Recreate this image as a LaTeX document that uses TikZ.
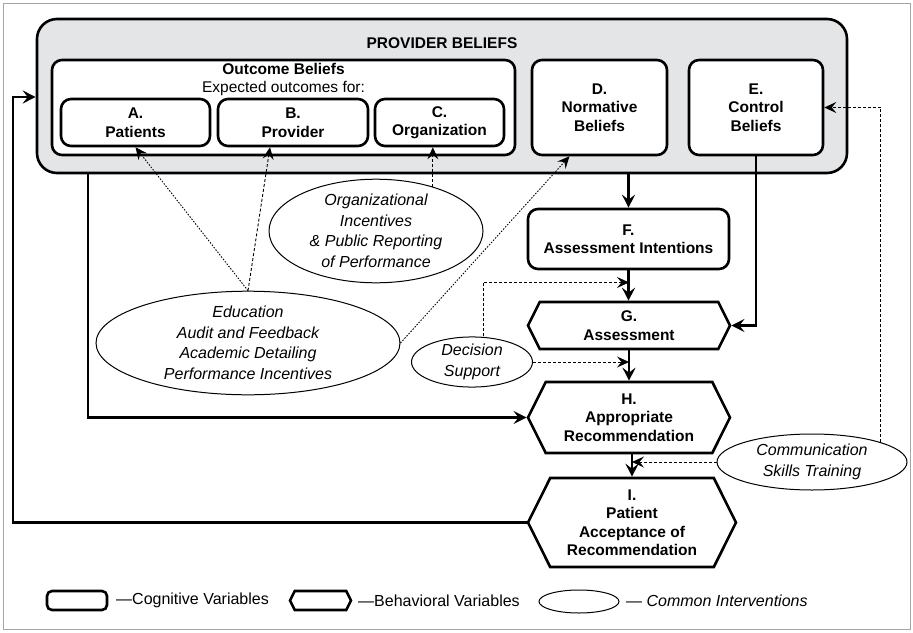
\documentclass[tikz,border=0pt]{standalone}
\usepackage{fontspec}
\setmainfont{Liberation Sans}
\usetikzlibrary{arrows.meta, positioning, shapes.geometric, shapes.symbols, calc}

\definecolor{provgray}{HTML}{E4E5E7}
\newcommand{\labfont}{\fontsize{15.5}{18.5}\selectfont}
\newcommand{\intfont}{\fontsize{16}{20.5}\selectfont\itshape}

\tikzset{
  cogbox/.style={draw, line width=2.6pt, rounded corners=10pt, fill=white, align=center, font=\labfont\bfseries, inner sep=1pt},
  behbox/.style={draw, line width=2.6pt, signal, signal to=west and east, signal pointer angle=127, fill=white, align=center, font=\labfont\bfseries, inner sep=1pt},
  interv/.style={draw, ellipse, line width=1pt, fill=white, align=center, font=\intfont, inner sep=0pt},
  flow/.style={line width=2.5pt, -{Stealth[length=13pt, width=13pt, inset=5pt]}},
  infl/.style={line width=0.9pt, dash pattern=on 3pt off 2pt, -{Stealth[length=12pt, width=11pt, inset=4.5pt]}},
  legtext/.style={anchor=west, font=\fontsize{16}{19}\selectfont, inner sep=0pt},
}

\begin{document}
\begin{tikzpicture}[x=1pt, y=-1pt]
  \useasboundingbox (0,0) rectangle (913,632);
  \draw[gray!70, line width=1pt] (3,3) rectangle (910,629);

  % Provider beliefs
  \node[draw, line width=2.6pt, rounded corners=20pt, fill=provgray, minimum width=810pt, minimum height=154pt] (prov) at (442,96) {};
  \node[font=\labfont\bfseries] (provtitle) at (442,43) {PROVIDER BELIEFS};
  \node[cogbox, minimum width=463pt, minimum height=95pt] (outc) at (283.5,107.5) {};
  \node[font=\labfont, align=center] (outctitle) at (283.5,79.5) {\textbf{Outcome Beliefs}\\Expected outcomes for:};
  \node[cogbox, minimum width=149pt, minimum height=47pt] (A) at (135.5,122.5) {A.\\Patients};
  \node[cogbox, minimum width=150pt, minimum height=47pt] (B) at (293,122.5) {B.\\Provider};
  \node[cogbox, minimum width=129pt, minimum height=47pt] (C) at (439.5,122.5) {C.\\Organization};
  \node[cogbox, minimum width=135pt, minimum height=95pt] (D) at (599.5,107.5) {D.\\Normative\\Beliefs};
  \node[cogbox, minimum width=134pt, minimum height=95pt] (E) at (756,107.5) {E.\\Control\\Beliefs};

  % Intentions and behaviours
  \node[cogbox, minimum width=201pt, minimum height=60pt] (F) at (628.5,239) {F.\\Assessment Intentions};
  \node[behbox, minimum width=202pt, minimum height=47pt] (G) at (629,325.5) {G.\\Assessment};
  \node[behbox, minimum width=202pt, minimum height=71pt] (H) at (629,417.5) {H.\\Appropriate\\Recommendation};
  \node[behbox, minimum width=208pt, minimum height=89pt] (I) at (632,522.5) {I.\\Patient\\Acceptance of\\Recommendation};

  % Interventions
  \node[interv, minimum width=214pt, minimum height=102pt] (org) at (376,231) {Organizational\\Incentives\\\& Public Reporting\\of Performance};
  \node[interv, minimum width=304pt, minimum height=100pt] (edu) at (248,343) {Education\\Audit and Feedback\\Academic Detailing\\Performance Incentives};
  \node[interv, minimum width=121pt, minimum height=48pt] (dec) at (472,362) {Decision\\Support};
  \node[interv, minimum width=190pt, minimum height=56pt] (comm) at (812,462) {Communication\\Skills Training};

  % Main flow
  \coordinate (back) at (13,97);
  \coordinate (tap) at (88,0);
  \coordinate (fg) at ($(F.south)!0.4!(G.north)$);
  \draw[flow] (prov.south -| F.north) -- (F.north);
  \draw[flow] (F.south) -- (F.south |- G.north);
  \draw[flow] (G.south) -- (G.south |- H.north);
  \draw[flow] (I.north |- H.south) -- (I.north);
  \draw[flow] (E.south) |- (G.east);
  \draw[flow] (prov.south -| tap) |- (H.west);
  \draw[flow] (I.west) -| (back) -- (back -| prov.west);

  % Intervention links
  \draw[infl, dash pattern=on 1.5pt off 1.5pt] (edu.north) -- (A.south);
  \draw[infl] (edu.north) -- ([xshift=-23pt]B.south);
  \draw[infl, dash pattern=on 1.5pt off 1.5pt] (edu.east) -- ([xshift=-30pt]D.south);
  \draw[infl] (org.38) -- (org.38 |- C.south);
  \draw[infl] ([xshift=11pt]dec.north) |- (fg -| G.north);
  \draw[infl] (dec.east) -- (dec.east -| G.south);
  \draw[infl] (comm.west) -- (comm.west -| I.north);
  \draw[infl] (comm.16) |- (E.east);

  % Legend
  \node[cogbox, rounded corners=5pt, minimum width=60pt, minimum height=19pt] (legcog) at (77,600.5) {};
  \node[legtext] (legcogtxt) at (116,600.5) {—Cognitive Variables};
  \node[behbox, minimum width=61pt, minimum height=19pt] (legbeh) at (320.5,600.5) {};
  \node[legtext] (legbehtxt) at (358,600.5) {—Behavioral Variables};
  \node[interv, minimum width=80pt, minimum height=23pt] (legint) at (579,601.5) {};
  \node[legtext, font=\intfont] (leginttxt) at (626,600.5) {— Common Interventions};
\end{tikzpicture}
\end{document}
